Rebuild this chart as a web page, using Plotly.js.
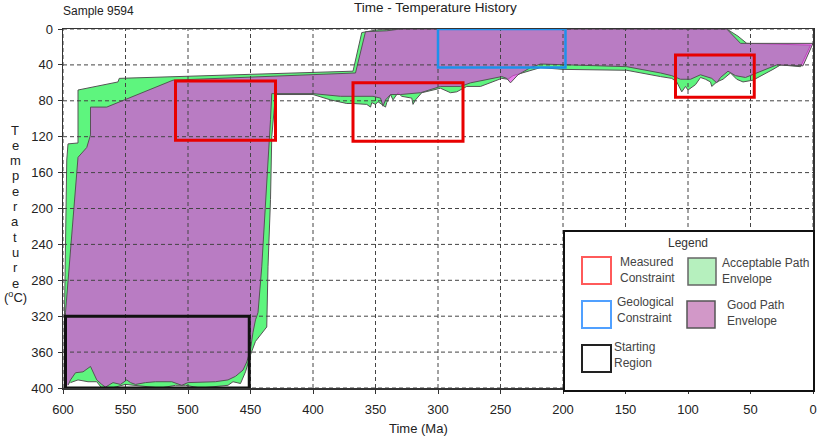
<!DOCTYPE html>
<html>
<head>
<meta charset="utf-8">
<script src="https://cdn.plot.ly/plotly-3.0.1.min.js"></script>
<style>html,body{margin:0;padding:0;background:#fff;}#chart{width:819px;height:439px;}</style>
</head>
<body>
<div id="chart"></div>
<script>
// ---- data (Time in Ma, Temperature in °C) ----
const acceptableTime = [599,599,597,596,588,588,556,555,368,361,349,330,69,60,53,2,10,26,32,48,56,61,66,72,77,81,82,86,90,94,100,102,105,109,113,122,149,200,218,226,232,240,244,249,266,277,285,290,298,309,313,318,320,321,329,332,336,338,341,342,348,350,353,354,357,368,373,386,400,430,433,434,436,437,446,450,454,458,464,468,490,502,510,522,538,550,561,569,573,580,588,594];
const acceptableTemp = [399,335,146,128,127,68,59,55,47,4,1,0,0,8,16,18,42,40,45,57,59,56,49,56,59,64,59,56,54,62,68,64,70,59,55,53,46,45,43,46,49,52,56,55,64,64,70,71,66,70,71,79,84,77,75,71,79,73,82,87,81,84,82,87,84,83,83,79,73,73,120,190,265,332,348,363,382,395,393,397,400,397,397,400,398,396,400,400,393,393,391,394];

const goodTime = [598,598,588,581,578,578,565,512,366,358,341,330,69,58,0,8,29,48,54,62,68,74,77,81,90,98,106,113,122,149,200,218,226,236,242,245,249,266,274,282,298,314,330,338,342,344,346,352,365,378,400,433,434,438,441,444,446,448,450,453,456,462,468,478,492,500,505,513,526,534,542,546,549,554,560,566,569,573,578,584,590,594,596];
const goodTemp = [396,316,143,132,118,87,87,57,49,3,2,0,0,16,16,41,40,50,54,52,47,54,60,55,51,56,56,52,49,42,40,39,43,51,60,55,53,58,60,64,64,71,73,73,79,86,77,75,75,75,72,72,101,190,265,316,324,338,357,371,380,387,391,393,394,394,397,393,393,394,396,394,391,396,394,399,396,391,376,382,383,391,397];

// constraint boxes
const measuredTimeOld = [510, 368, 110];
const measuredTimeYoung = [430, 280, 47];
const measuredTempLow = [58, 60, 29];
const measuredTempHigh = [124, 125, 76];
const geologicalTime = [300, 198];
const geologicalTemp = [0, 43];
const startTime = [598, 451];
const startTemp = [320, 400];

const xTicks = [600,550,500,450,400,350,300,250,200,150,100,50,0];
const yTicks = [0,40,80,120,160,200,240,280,320,360,400];

// ---- layout helpers (pixel -> paper) ----
const L = 63, TOP = 29, W = 750, H = 359;
const px = x => (x - L) / W;
const py = y => 1 - (y - TOP) / H;
const FONT = 'Liberation Sans, Arial, sans-serif';

const traces = [
  {x: acceptableTime, y: acceptableTemp, type: 'scatter', mode: 'lines', fill: 'toself',
   fillcolor: 'rgb(94,245,126)', line: {color: '#555', width: 1}, hoverinfo: 'skip', showlegend: false},
  {x: goodTime, y: goodTemp, type: 'scatter', mode: 'lines', fill: 'toself',
   fillcolor: 'rgba(226,70,226,0.69)', line: {color: '#555', width: 1}, hoverinfo: 'skip', showlegend: false}
];

const shapes = [];
const grid = {color: '#444', width: 1, dash: '4px,3px'};
xTicks.forEach(t => shapes.push({type: 'line', xref: 'x', yref: 'paper', x0: t, x1: t, y0: 0, y1: 1, line: grid, layer: 'above'}));
yTicks.forEach(v => shapes.push({type: 'line', xref: 'paper', yref: 'y', x0: 0, x1: 1, y0: v, y1: v, line: grid, layer: 'above'}));

measuredTimeOld.forEach((t, i) => shapes.push({type: 'rect', xref: 'x', yref: 'y',
  x0: t, x1: measuredTimeYoung[i], y0: measuredTempLow[i], y1: measuredTempHigh[i],
  line: {color: 'rgb(232,0,0)', width: 3}, layer: 'above'}));
shapes.push({type: 'rect', xref: 'x', yref: 'y', x0: geologicalTime[0], x1: geologicalTime[1],
  y0: geologicalTemp[0], y1: geologicalTemp[1], line: {color: 'rgb(30,145,235)', width: 2.5}, layer: 'above'});
shapes.push({type: 'rect', xref: 'x', yref: 'y', x0: startTime[0], x1: startTime[1],
  y0: startTemp[0], y1: startTemp[1], line: {color: '#111', width: 3}, layer: 'above'});

// legend box
function prect(x0, y0, x1, y1, line, fill) {
  shapes.push({type: 'rect', xref: 'paper', yref: 'paper', x0: px(x0), x1: px(x1), y0: py(y1), y1: py(y0),
    line: line, fillcolor: fill, layer: 'above'});
}
prect(564, 231, 814, 391, {color: '#111', width: 2}, '#fff');
prect(582, 257, 611, 284, {color: 'rgb(255,90,90)', width: 2}, '#fff');
prect(582, 301, 611, 328, {color: 'rgb(80,160,255)', width: 2}, '#fff');
prect(582, 345, 611, 372, {color: '#222', width: 2}, '#fff');
prect(688, 258, 716, 285, {color: '#666', width: 1.5}, 'rgb(182,240,190)');
prect(687, 301, 715, 328, {color: '#555', width: 1.5}, 'rgb(210,152,200)');

const annotations = [];
function ann(text, x, y, size, anchor, color) {
  annotations.push({text: text, xref: 'paper', yref: 'paper', x: px(x), y: py(y), showarrow: false,
    xanchor: anchor || 'center', yanchor: 'middle', align: anchor === 'left' ? 'left' : 'center',
    font: {family: FONT, size: size, color: color || '#222'}});
}
ann('Time - Temperature History', 435, 7, 13.5);
ann('Sample 9594', 61, 11, 12, 'left');
ann('Time (Ma)', 418, 428, 13);
const letters = 'Temperature'.split('');
letters.forEach((c, i) => ann(c, 15, 130 + i * 15.3, 13));
ann('(<sup>o</sup>C)', 15, 297, 13);

ann('Legend', 688, 243, 12, 'center', '#333');
ann('Measured<br>Constraint', 618, 270, 12, 'left', '#444');
ann('Geological<br>Constraint', 615, 310, 12, 'left', '#444');
ann('Starting<br>Region', 612, 355, 12, 'left', '#444');
ann('Acceptable Path<br>Envelope', 720, 271, 12, 'left', '#444');
ann('Good Path<br>Envelope', 725, 313, 12, 'left', '#444');

const layout = {
  width: 819, height: 439,
  margin: {l: L, r: 819 - L - W, t: TOP, b: 439 - TOP - H, pad: 0},
  paper_bgcolor: '#fff', plot_bgcolor: '#fff',
  showlegend: false,
  xaxis: {range: [600, 0], tickvals: xTicks, ticktext: xTicks.map(String), showgrid: false, zeroline: false,
    showline: true, mirror: true, linecolor: '#333', linewidth: 1.5, ticks: 'outside', ticklen: 4, tickcolor: '#333',
    ticklabelstandoff: 5, tickfont: {family: FONT, size: 13, color: '#222'}},
  yaxis: {range: [400, 0], tickvals: yTicks, ticktext: yTicks.map(String), showgrid: false, zeroline: false,
    showline: true, mirror: true, linecolor: '#333', linewidth: 1.5, ticks: 'outside', ticklen: 4, tickcolor: '#333',
    ticklabelstandoff: 2, tickfont: {family: FONT, size: 13, color: '#222'}},
  shapes: shapes,
  annotations: annotations
};

Plotly.newPlot('chart', traces, layout, {staticPlot: true, displayModeBar: false});
</script>
</body>
</html>
